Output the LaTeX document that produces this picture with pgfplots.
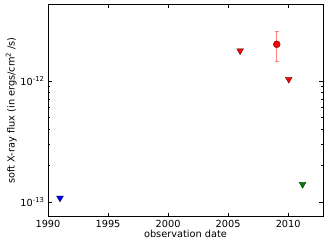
\documentclass[border=0pt]{standalone}
\usepackage{pgfplots}
\pgfplotsset{compat=1.18}
\usepackage{fontspec}
\setmainfont{DejaVu Sans}
\definecolor{mgreen}{rgb}{0,0.5,0}
\definecolor{errred}{rgb}{1,0.5,0.5}
\begin{document}
\begin{tikzpicture}
\useasboundingbox (-48bp,-29.3bp) rectangle (279bp,216.7bp);
\begin{axis}[
  at={(0,0)}, anchor=south west,
  scale only axis, width=275bp, height=212.7bp,
  ymode=log,
  xmin=1990, xmax=2012.9,
  ymin=7.57e-14, ymax=4.3e-12,
  xtick={1990,1995,2000,2005,2010},
  ytick={1e-13,1e-12},
  yticklabels={10\textsuperscript{-13},10\textsuperscript{-12}},
  /pgf/number format/1000 sep={},
  /pgf/number format/assume math mode=true,
  tick align=inside,
  major tick length=4bp, minor tick length=2bp,
  tick style={black, line width=0.5pt},
  axis line style={black, line width=0.6pt},
  ticklabel style={font=\fontsize{9.8}{11}\selectfont},
  label style={font=\fontsize{9.8}{11}\selectfont},
  xlabel={observation date},
  ylabel={soft X-ray flux (in ergs/cm\textsuperscript{2} /s)},
  xlabel style={yshift=4bp},
  ylabel style={yshift=-3bp},
  clip=false,
]
\addplot[only marks, mark=triangle*, mark size=4bp, mark options={rotate=180, fill=blue, draw=black, line width=0.2pt}] coordinates {(1991.0,1.08e-13)};
\addplot[only marks, mark=triangle*, mark size=4bp, mark options={rotate=180, fill=red, draw=black, line width=0.2pt}] coordinates {(2006.0,1.77e-12) (2010.05,1.03e-12)};
\addplot[only marks, mark=triangle*, mark size=4bp, mark options={rotate=180, fill=mgreen, draw=black, line width=0.2pt}] coordinates {(2011.2,1.40e-13)};
\addplot[only marks, mark=*, mark size=3.5bp, mark options={fill=red, draw=black, line width=0.2pt},
  error bars/.cd, y dir=both, y explicit,
  error bar style={errred, line width=0.9pt},
  error mark options={errred, line width=0.9pt, mark size=2.2bp, rotate=90}]
  coordinates {(2009.05,2.0e-12) += (0,0.54e-12) -= (0,0.55e-12)};
\end{axis}
\end{tikzpicture}
\end{document}
